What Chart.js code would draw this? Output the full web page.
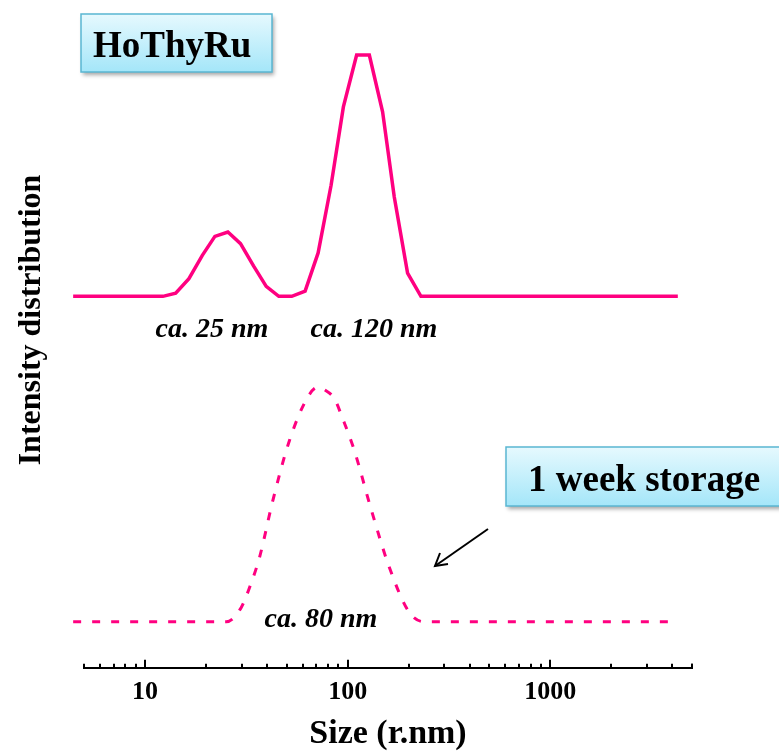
<!DOCTYPE html>
<html><head><meta charset="utf-8">
<script src="https://cdn.jsdelivr.net/npm/chart.js@4/dist/chart.umd.min.js"></script>
<style>
html,body{margin:0;padding:0;background:#fff;}
#wrap{position:relative;width:779px;height:751px;}
canvas{display:block;}
</style></head><body>
<div id="wrap"><canvas id="c" width="779" height="751"></canvas></div>
<script>
// Size (r.nm) values
const sizesFresh = [4.42, 12.26, 14.17, 16.47, 19.18, 22.12, 25.64, 29.60, 34.31, 39.63, 45.72, 52.98, 61.66, 71.48, 82.82, 95.24, 110.7, 127.9, 148.7, 169.8, 197.5, 229.9, 4256];
const intensityFresh = [0, 0, 0.2, 1.1, 2.55, 3.73, 4.0, 3.28, 1.89, 0.62, 0, 0, 0.33, 2.7, 6.91, 11.78, 15.0, 15.0, 11.47, 6.18, 1.45, 0, 0];
const sizesStored = [4.42, 25.18, 29.85, 32.80, 36.73, 42.72, 51.62, 63.53, 71.16, 76.79, 86.03, 94.50, 107.9, 130.4, 160.5, 201.4, 238.7, 4256];
const intensityStored = [0, 0, 0.89, 2.13, 4.0, 7.53, 11.27, 13.96, 14.58, 14.42, 13.86, 12.62, 10.64, 7.01, 3.38, 0.58, 0, 0];
const majorTicks = [10, 100, 1000];
const minorMultipliers = [1, 2, 3, 4, 5, 6, 7, 8, 9];
const peakLabels = ['ca. 25 nm', 'ca. 120 nm', 'ca. 80 nm'];
const sampleLabel = 'HoThyRu';
const storageLabel = '1 week storage';
const xTitle = 'Size (r.nm)';
const yTitle = 'Intensity distribution';

const SERIF = '"Liberation Serif", "Times New Roman", serif';
const PINK = '#ff0080';

const toPts = (xs, ys) => xs.map((x, i) => ({x: x, y: ys[i]}));

function rectPath(ctx, x, y, w, h) {
  ctx.beginPath(); ctx.rect(x, y, w, h);
}
function drawBox(ctx, x, y, w, h, text, tx, ty) {
  ctx.save();
  ctx.shadowColor = 'rgba(0,0,0,0.35)';
  ctx.shadowBlur = 4; ctx.shadowOffsetX = 2; ctx.shadowOffsetY = 3;
  const g = ctx.createLinearGradient(0, y, 0, y + h);
  g.addColorStop(0, '#e6f9fe'); g.addColorStop(1, '#a4e6f9');
  ctx.fillStyle = g;
  rectPath(ctx, x, y, w, h); ctx.fill();
  ctx.restore();
  ctx.save();
  ctx.strokeStyle = '#5ab6d2'; ctx.lineWidth = 1.5;
  rectPath(ctx, x, y, w, h); ctx.stroke();
  ctx.fillStyle = '#000';
  ctx.font = 'bold 37px ' + SERIF;
  ctx.textAlign = 'left'; ctx.textBaseline = 'alphabetic';
  ctx.fillText(text, tx, ty);
  ctx.restore();
}

const decor = {
  id: 'decor',
  afterDraw(chart) {
    const ctx = chart.ctx;
    const xs = chart.scales.x;
    const bottom = chart.chartArea.bottom;
    // upward tick marks on the log axis
    ctx.save();
    ctx.strokeStyle = '#000'; ctx.lineWidth = 2;
    [1, 10, 100, 1000].forEach(d => {
      minorMultipliers.forEach(m => {
        const v = m * d;
        if (v < xs.min || v > xs.max) return;
        const px = Math.round(xs.getPixelForValue(v));
        const len = majorTicks.includes(v) ? 8 : 4;
        ctx.beginPath(); ctx.moveTo(px, bottom); ctx.lineTo(px, bottom - len); ctx.stroke();
      });
    });
    const pEnd = Math.round(xs.getPixelForValue(xs.max));
    ctx.beginPath(); ctx.moveTo(pEnd, bottom); ctx.lineTo(pEnd, bottom - 4); ctx.stroke();
    ctx.restore();

    // peak labels
    ctx.save();
    ctx.fillStyle = '#000';
    ctx.font = 'italic bold 28px ' + SERIF;
    ctx.textAlign = 'center'; ctx.textBaseline = 'alphabetic';
    ctx.fillText(peakLabels[0], 212, 337);
    ctx.fillText(peakLabels[1], 374, 337);
    ctx.fillText(peakLabels[2], 321, 627);
    ctx.restore();

    // y title
    ctx.save();
    ctx.translate(32, 320);
    ctx.rotate(-Math.PI / 2);
    ctx.fillStyle = '#000';
    ctx.font = 'bold 32px ' + SERIF;
    ctx.textAlign = 'center'; ctx.textBaseline = 'middle';
    ctx.fillText(yTitle, 0, 0);
    ctx.restore();

    // boxes
    drawBox(ctx, 81, 14, 191, 58, sampleLabel, 93, 57);
    drawBox(ctx, 506, 447, 300, 59, storageLabel, 528, 491);

    // arrow
    ctx.save();
    ctx.strokeStyle = '#000'; ctx.lineWidth = 2;
    ctx.beginPath(); ctx.moveTo(488, 529); ctx.lineTo(435, 566); ctx.stroke();
    ctx.beginPath(); ctx.moveTo(448, 564); ctx.lineTo(435, 566); ctx.lineTo(440, 553); ctx.stroke();
    ctx.restore();
  }
};

new Chart(document.getElementById('c'), {
  type: 'line',
  data: {
    datasets: [
      {data: toPts(sizesFresh, intensityFresh), yAxisID: 'y', borderColor: PINK, borderWidth: 3.5,
       pointRadius: 0, tension: 0, clip: false, fill: false},
      {data: toPts(sizesStored, intensityStored), yAxisID: 'y2', borderColor: PINK, borderWidth: 3,
       borderDash: [8, 11], pointRadius: 0, cubicInterpolationMode: 'monotone', clip: false, fill: false}
    ]
  },
  options: {
    responsive: false,
    animation: false,
    layout: {padding: {left: 84, right: 87, top: 20, bottom: 0}},
    plugins: {legend: {display: false}, tooltip: {enabled: false}},
    scales: {
      x: {
        type: 'logarithmic', position: 'bottom', min: 5, max: 5000,
        afterBuildTicks: s => { s.ticks = majorTicks.map(v => ({value: v, major: true})); },
        grid: {display: false, drawTicks: false},
        border: {display: true, color: '#000', width: 2},
        ticks: {color: '#000', padding: 9, maxRotation: 0, autoSkip: false,
          font: {family: SERIF, weight: 'bold', size: 26},
          callback: v => String(v)},
        title: {display: true, text: xTitle, color: '#000',
          font: {family: SERIF, weight: 'bold', size: 34, lineHeight: 1.0},
          padding: {top: 0, bottom: 0}}
      },
      y: {display: false, min: -23.09, max: 17.18},
      y2: {display: false, min: -2.863, max: 37.40}
    }
  },
  plugins: [decor]
});
</script>
</body></html>
